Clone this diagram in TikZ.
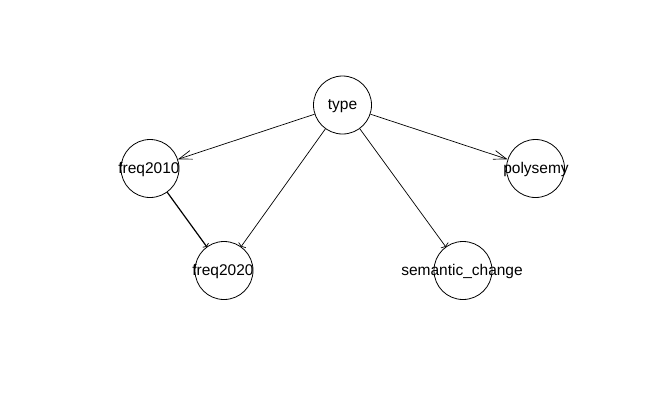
\documentclass[tikz,border=0pt]{standalone}
\usepackage{fontspec}
\setmainfont{Liberation Sans}
\usetikzlibrary{arrows.meta}
\begin{document}
\begin{tikzpicture}[x=1pt,y=-1pt,
  vtx/.style={draw=black,line width=0.8pt,circle,minimum size=58pt,inner sep=0pt,fill=none},
  lbl/.style={anchor=base,inner sep=0pt,font=\fontsize{15.5pt}{18pt}\selectfont},
  edge/.style={draw=black,line width=0.7pt,-{Straight Barb[length=13pt,width=9pt]}},
  steepedge/.style={draw=black,line width=0.7pt,-{Straight Barb[length=1.5pt,width=9pt]}},
  plainedge/.style={draw=black,line width=1.2pt,-{Straight Barb[length=1.5pt,width=7pt,line width=0.7pt]}}]
  % page frame
  \fill[white] (0,0) rectangle (647,413);
  \useasboundingbox (0,0) rectangle (647,413);
  % vertices
  \node[vtx] (type) at (342.5,105) {};
  \node[vtx] (freq2010) at (150,168.5) {};
  \node[vtx] (polysemy) at (535.5,168.5) {};
  \node[vtx] (freq2020) at (224,270.5) {};
  \node[vtx] (semchange) at (463,270.5) {};
  % labels
  \node[lbl] (ltype) at (342.5,109.5) {type};
  \node[lbl] (lfreq2010) at (149,173) {freq2010};
  \node[lbl] (lpolysemy) at (536,173) {polysemy};
  \node[lbl] (lfreq2020) at (223,275) {freq2020};
  \node[lbl] (lsemchange) at (462,275) {semantic\_change};
  % edges
  \draw[edge] (type) -- (freq2010);
  \draw[edge] (type) -- (polysemy);
  \draw[steepedge] (type) -- (freq2020);
  \draw[steepedge] (type) -- (semchange);
  \draw[plainedge] (freq2010) -- (freq2020);
\end{tikzpicture}
\end{document}
